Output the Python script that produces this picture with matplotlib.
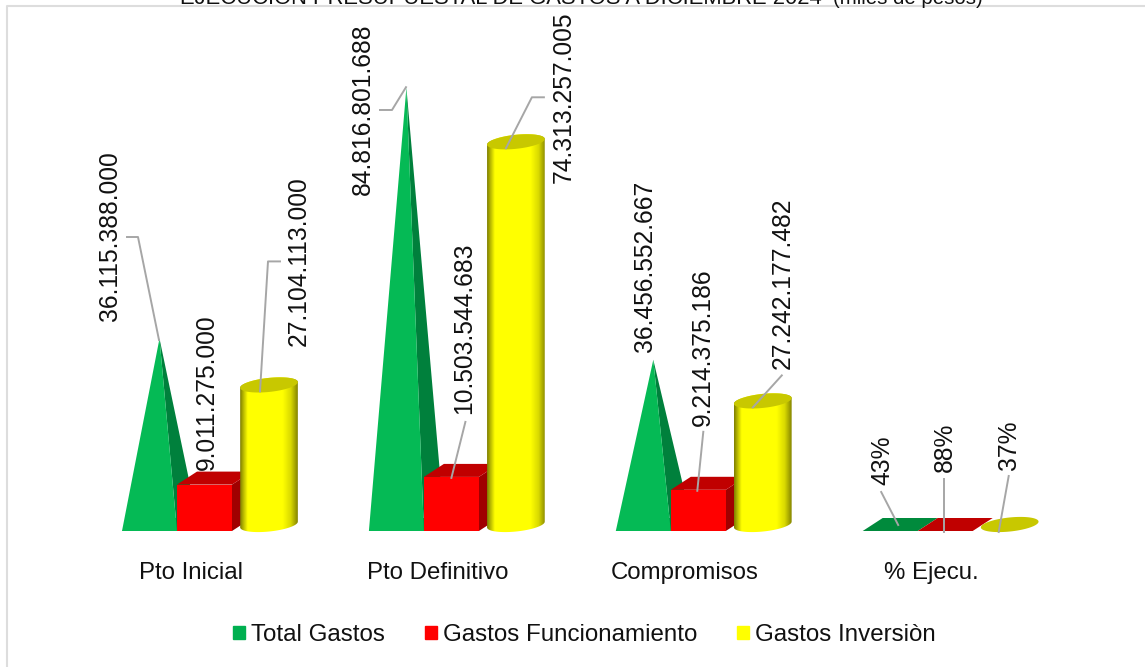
import numpy as np
import matplotlib
matplotlib.use("Agg")
import matplotlib.pyplot as plt
from matplotlib.patches import Patch, Polygon

plt.rcParams['font.family'] = ['Liberation Sans', 'DejaVu Sans']

# Data
categories = ['Pto Inicial', 'Pto Definitivo', 'Compromisos', '% Ejecu.']
series_names = ['Total Gastos', 'Gastos Funcionamiento', 'Gastos Inversiòn']
total_gastos = [36115388000, 84816801688, 32000000000, 0.43]
funcionamiento = [9011275000, 10503544683, 8000000000, 0.88]
inversion = [27104113000, 74313257005, 24000000000, 0.37]
total_labels = ['36.115.388.000', '84.816.801.688', '36.456.552.667', '43%']
func_labels = ['9.011.275.000', '10.503.544.683', '9.214.375.186', '88%']
inv_labels = ['27.104.113.000', '74.313.257.005', '27.242.177.482', '37%']

# Layout, all in pixels of the 1145x667 picture
W, H = 1145, 667
CAT_W = 246.9
PX_PER_VALUE = 5.15 / 1e9
BASE_Y = 531
TOP_Y = 70
BELOW = 14                # room under the baseline for the round cylinder bottoms
BAR_W = 55
DX, DY = 20, 13           # fake 3D depth
OFF_TOTAL, OFF_FUNC, OFF_INV = -41.5, 13.5, 78
CYL_A, CYL_B, CYL_TILT = 29, 7, np.deg2rad(6)

# leader line vertices and label centre, relative to the top of each bar (y up)
total_leaders = [[(9.5, 5), (-11.5, 108), (-22.5, 108)], [(9.6, 7), (-4.4, -15.8), (-16.4, -15.8)],
                 None, [(8, 6), (-9, 39)]]
func_leaders = [None, [(0, -1), (14, 55)], [(-1, -1), (5, 58)], [(-1, -1), (-1, 52)]]
inv_leaders = [[(-9, 0), (-1, 130), (11, 130)], [(-10, 0), (16, 51), (28, 51)],
               [(-10, 0), (19, 32)], [(-11, -1), (-1, 55)]]
total_text = [(-39, 108.5), (-34, -14.8), (2, 100), (-7.5, 71)]
func_text = [(2, 92.5), (13, 149), (5, 142.8), (-0.5, 84)]
inv_text = [(29.5, 130), (47.5, 51), (19.7, 124.4), (-0.5, 86)]

GREEN, GREEN_FRONT, GREEN_DARK, GREEN_FLAT = '#00B050', '#05BA55', '#00803C', '#008A3C'
RED, RED_TOP, RED_SIDE = '#FF0000', '#C00000', '#A00000'
YELLOW, YELLOW_TOP = '#FFFF00', '#C8C800'
GREY = '#A6A6A6'
FS = 17.3
FS_LABEL = 17.7

fig = plt.figure(figsize=(W / 100, H / 100), dpi=100)
ax = fig.add_axes([(191 - CAT_W / 2) / W, (H - BASE_Y - BELOW) / H, 4 * CAT_W / W, (BASE_Y + BELOW - TOP_Y) / H])
ymax = (BASE_Y - TOP_Y) / PX_PER_VALUE
ymin = -BELOW / PX_PER_VALUE


def at(x, y, dx=0, dy=0):
    # move a data point by some pixels
    return x + dx / CAT_W, y + dy / PX_PER_VALUE


def poly(x, y, offsets, color, z):
    pts = [at(x, y, dx, dy) for dx, dy in offsets]
    ax.add_patch(Polygon(pts, closed=True, facecolor=color, edgecolor='none', zorder=z))


def ellipse(t, cy_px):
    ex = CYL_A * np.cos(t) * np.cos(CYL_TILT) - CYL_B * np.sin(t) * np.sin(CYL_TILT)
    ey = CYL_A * np.cos(t) * np.sin(CYL_TILT) + CYL_B * np.sin(t) * np.cos(CYL_TILT)
    return ex, ey + cy_px


# dark edges on the cylinder
grad_pos = [0, 0.04, 0.13, 0.74, 0.88, 1]
grad_r = [0.50, 0.66, 1, 1, 0.85, 0.52]
g = np.linspace(0, 1, 116)
g = np.interp(g, grad_pos, grad_r)
grad = np.dstack([g, g, np.zeros_like(g)])

for i in range(len(categories)):
    x_total = i + OFF_TOTAL / CAT_W
    x_func = i + OFF_FUNC / CAT_W
    x_inv = i + OFF_INV / CAT_W
    half = BAR_W / 2

    # pyramid, the % group is so low that only its base shows
    h_total = total_gastos[i]
    poly(x_total, 0, [(-half, 0), (half, 0), (half + DX, DY), (-half + DX, DY)], GREEN_FLAT, 2)
    if h_total * PX_PER_VALUE > 1:
        apex = at(x_total, h_total, DX / 2, DY / 2)
        ax.add_patch(Polygon([apex, at(x_total, 0, half), at(x_total, 0, half + DX, DY)],
                             facecolor=GREEN_DARK, edgecolor='none', zorder=2.1))
        ax.add_patch(Polygon([apex, at(x_total, 0, -half), at(x_total, 0, half)],
                             facecolor=GREEN_FRONT, edgecolor='none', zorder=2.2))

    # box
    h_func = funcionamiento[i]
    ax.bar(x_func, h_func, width=BAR_W / CAT_W, color=RED, zorder=3.2)
    ax.add_patch(Polygon([at(x_func, 0, half), at(x_func, 0, half + DX, DY),
                          at(x_func, h_func, half + DX, DY), at(x_func, h_func, half)],
                         facecolor=RED_SIDE, edgecolor='none', zorder=3))
    poly(x_func, h_func, [(-half, 0), (half, 0), (half + DX, DY), (-half + DX, DY)], RED_TOP, 3.1)

    # cylinder
    h_inv = inversion[i]
    h_px = h_inv * PX_PER_VALUE
    if h_px > 1:
        t1 = np.linspace(np.pi, 2 * np.pi, 40)
        t2 = np.linspace(0, np.pi, 40)
        bx, by = ellipse(t1, DY / 2)
        tx, ty = ellipse(t2, DY / 2 + h_px)
        outline = [at(x_inv, 0, a, b) for a, b in zip(np.r_[bx, tx], np.r_[by, ty])]
        im = ax.imshow(grad, aspect='auto', zorder=4, interpolation='bilinear',
                       extent=[x_inv - CYL_A / CAT_W, x_inv + CYL_A / CAT_W, ymin, h_inv + 15e9])
        clip = Polygon(outline, closed=True, transform=ax.transData, facecolor='none', edgecolor='none')
        ax.add_patch(clip)
        im.set_clip_path(clip)
    t = np.linspace(0, 2 * np.pi, 80)
    ex, ey = ellipse(t, DY / 2 + h_px)
    ax.add_patch(Polygon([at(x_inv, 0, a, b) for a, b in zip(ex, ey)], facecolor=YELLOW_TOP,
                         edgecolor='none', zorder=4.1, clip_on=False))

    # labels
    for x, h, leader, off, lab in [(x_total, h_total, total_leaders[i], total_text[i], total_labels[i]),
                                   (x_func, h_func, func_leaders[i], func_text[i], func_labels[i]),
                                   (x_inv, h_inv, inv_leaders[i], inv_text[i], inv_labels[i])]:
        if leader:
            pts = np.array([at(x, h, dx, dy) for dx, dy in leader])
            ax.plot(pts[:, 0], pts[:, 1], color=GREY, lw=1.4, zorder=5, clip_on=False)
        tx_, ty_ = at(x, h, *off)
        ax.text(tx_, ty_, lab, rotation=90, ha='center', va='center', fontsize=FS_LABEL,
                color='#111111', zorder=6, clip_on=False)

ax.set_xlim(-0.5, 3.5)
ax.set_ylim(ymin, ymax)
ax.set_xticks(range(len(categories)))
ax.set_xticklabels(categories, fontsize=FS, color='#111111')
ax.set_yticks([])
ax.tick_params(axis='x', length=0, pad=12.5)
for s in ax.spines.values():
    s.set_visible(False)
ax.patch.set_alpha(0)

# frame of the chart, cut by the picture edge
fig.add_artist(plt.Line2D([6.5 / W, 6.5 / W, 1], [0, 1 - 5.5 / H, 1 - 5.5 / H], color='#DDDDDD', lw=1.5))

# title, mostly above the picture
fig.text(180 / W, 1 - 3.5 / H, 'EJECUCION PRESUPUESTAL DE GASTOS A DICIEMBRE 2024', fontsize=15.8, va='baseline', color='#111111')
fig.text(833 / W, 1 - 3.5 / H, '(miles de pesos)', fontsize=14.7, va='baseline', color='#111111')

handles = [Patch(color=c) for c in (GREEN, RED, YELLOW)]
fig.legend(handles, series_names, loc='center', bbox_to_anchor=(584.5 / W, 1 - 635 / H), ncol=3, frameon=False,
           fontsize=FS + 0.1, handlelength=0.5, handleheight=0.5, handletextpad=0.24, columnspacing=1.66, labelcolor='#111111')

fig.savefig('out.png', dpi=100)
